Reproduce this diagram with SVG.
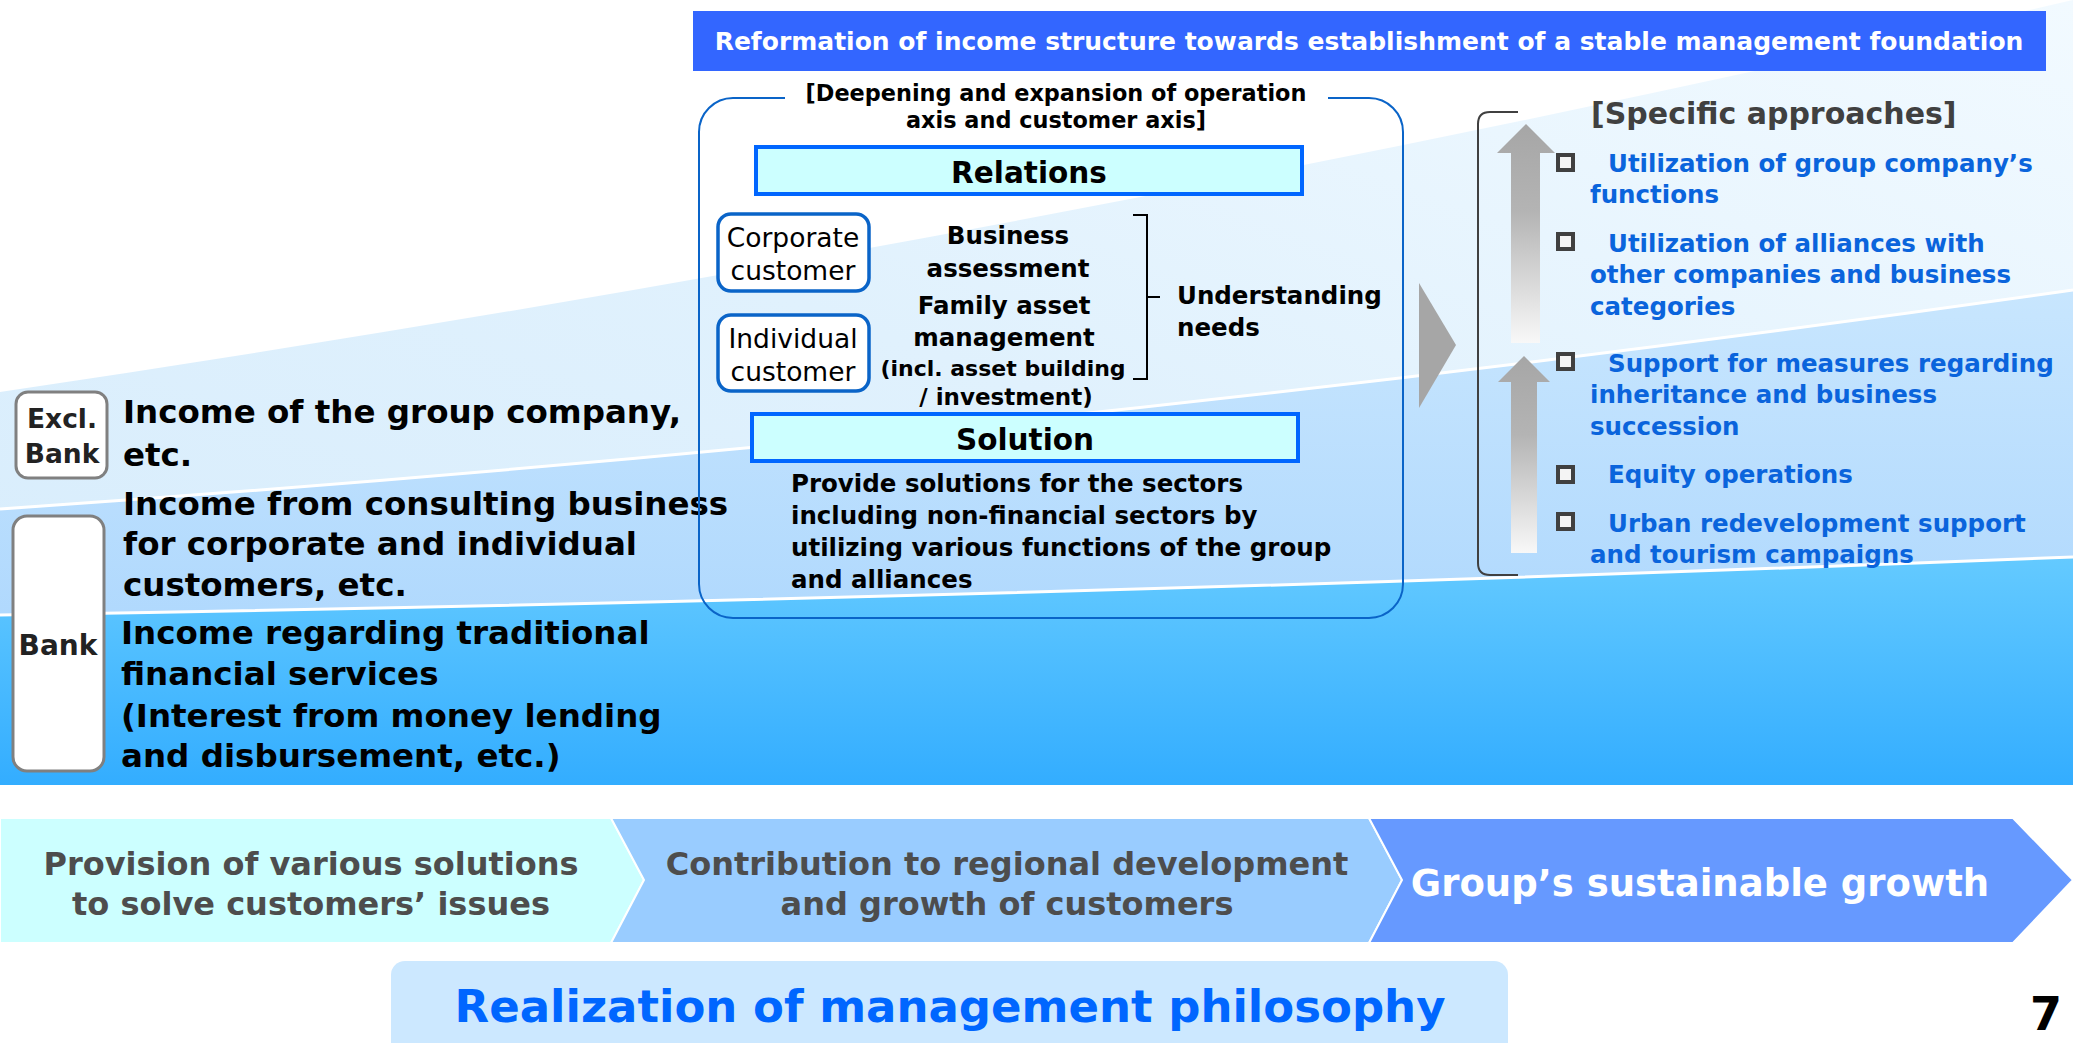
<svg xmlns="http://www.w3.org/2000/svg" width="2073" height="1043" viewBox="0 0 2073 1043">
<defs>
<style>
text{font-family:"DejaVu Sans",Verdana,sans-serif;}
.b{font-weight:bold;}
.c{text-anchor:middle;}
.blue{fill:#0A64DC;font-weight:bold;font-size:24.5px;}
.mid{font-weight:bold;font-size:24.5px;fill:#000;text-anchor:middle;}
.sub{font-weight:bold;font-size:22px;fill:#000;text-anchor:middle;}
.sub2{font-weight:bold;font-size:23px;fill:#000;text-anchor:middle;}
.left{font-weight:bold;font-size:32.5px;fill:#000;}
.sep{fill:none;stroke:#fff;stroke-width:3;}
.lbl{fill:#fff;stroke:#808080;stroke-width:3;}
.cust{fill:#fff;stroke:#0A64C8;stroke-width:3.5;}
.hdr{fill:#CCFFFF;stroke:#0066FF;stroke-width:4;}
.bul{fill:#F4F4F4;stroke:#404040;stroke-width:4;}
.chev{stroke:#fff;stroke-width:2;}
</style>
<linearGradient id="g1" x1="1" y1="0" x2="0" y2="1">
<stop offset="0" stop-color="#F2FAFF"/>
<stop offset="0.5" stop-color="#E0F1FD"/>
<stop offset="1" stop-color="#D6ECFC"/>
</linearGradient>
<linearGradient id="g2" x1="0" y1="0" x2="0" y2="1">
<stop offset="0" stop-color="#C8E6FE"/>
<stop offset="1" stop-color="#A4D2FD"/>
</linearGradient>
<linearGradient id="g3" x1="0" y1="0" x2="0" y2="1">
<stop offset="0" stop-color="#64CAFF"/>
<stop offset="1" stop-color="#33ADFF"/>
</linearGradient>
<linearGradient id="ga" x1="0" y1="0" x2="0" y2="1">
<stop offset="0" stop-color="#A6A6A6"/>
<stop offset="0.4" stop-color="#B4B4B4"/>
<stop offset="1" stop-color="#F8F8F8"/>
</linearGradient>
</defs>

<g id="background">
<rect x="0" y="0" width="2073" height="1043" fill="#fff"/>
<path d="M0,392 Q1036,238 2073,0 L2073,785 L0,785 Z" fill="url(#g1)"/>
<path d="M0,509 Q1036,438 2073,290 L2073,785 L0,785 Z" fill="url(#g2)"/>
<path class="sep" d="M0,509 Q1036,438 2073,290"/>
<path d="M0,615 Q1036,598 2073,557 L2073,785 L0,785 Z" fill="url(#g3)"/>
<path class="sep" d="M0,615 Q1036,598 2073,557"/>
</g>

<g id="banner">
<rect x="693" y="11" width="1353" height="60" fill="#3366FF"/>
<text x="1369" y="50" class="b c" font-size="25" fill="#fff">Reformation of income structure towards establishment of a stable management foundation</text>
</g>

<g id="label-excl-bank">
<rect class="lbl" x="16" y="392" width="91" height="86" rx="12"/>
<text x="62" y="428" class="b c" font-size="26.5" fill="#222">Excl.</text>
<text x="62" y="463" class="b c" font-size="26.5" fill="#222">Bank</text>
</g>
<g id="label-bank">
<rect class="lbl" x="13" y="516" width="91" height="255" rx="14"/>
<text x="58" y="655" class="b c" font-size="28" fill="#222">Bank</text>
</g>

<g id="income-texts">
<text x="123" y="423" class="left">Income of the group company,</text>
<text x="123" y="466" class="left">etc.</text>
<text x="123" y="515" class="left">Income from consulting business</text>
<text x="123" y="555" class="left">for corporate and individual</text>
<text x="123" y="596" class="left">customers, etc.</text>
<text x="121" y="644" class="left">Income regarding traditional</text>
<text x="121" y="685" class="left">financial services</text>
<text x="121" y="727" class="left">(Interest from money lending</text>
<text x="121" y="767" class="left">and disbursement, etc.)</text>
</g>

<g id="axis-frame">
<path d="M785,98 L733,98 A34,34 0 0 0 699,132 L699,584 A34,34 0 0 0 733,618 L1369,618 A34,34 0 0 0 1403,584 L1403,132 A34,34 0 0 0 1369,98 L1328,98" fill="none" stroke="#0A64C8" stroke-width="2"/>
<text x="1056" y="101" class="b c" font-size="22.4" fill="#000">[Deepening and expansion of operation</text>
<text x="1056" y="128" class="b c" font-size="22.4" fill="#000">axis and customer axis]</text>
</g>

<g id="relations">
<rect class="hdr" x="756" y="147" width="546" height="47"/>
<text x="1029" y="183" class="b c" font-size="29.5" fill="#000">Relations</text>
</g>

<g id="corporate-customer">
<rect class="cust" x="718" y="214" width="151" height="77" rx="13"/>
<text x="793" y="247" class="c" font-size="26.5" fill="#000">Corporate</text>
<text x="793" y="280" class="c" font-size="26.5" fill="#000">customer</text>
</g>
<g id="individual-customer">
<rect class="cust" x="718" y="315" width="151" height="76" rx="13"/>
<text x="793" y="348" class="c" font-size="26.5" fill="#000">Individual</text>
<text x="793" y="381" class="c" font-size="26.5" fill="#000">customer</text>
</g>

<g id="needs-items">
<text x="1008" y="244" class="mid">Business</text>
<text x="1008" y="277" class="mid">assessment</text>
<text x="1004" y="314" class="mid">Family asset</text>
<text x="1004" y="346" class="mid">management</text>
<text x="1003" y="376" class="sub">(incl. asset building</text>
<text x="1006" y="405" class="sub2">/ investment)</text>
</g>

<g id="understanding-needs">
<path d="M1133,215 L1147,215 L1147,379 L1133,379 M1147,297 L1160,297" fill="none" stroke="#000" stroke-width="2"/>
<text x="1177" y="304" class="b" font-size="24.5" fill="#000">Understanding</text>
<text x="1177" y="336" class="b" font-size="24.5" fill="#000">needs</text>
</g>

<g id="solution">
<rect class="hdr" x="752" y="414" width="546" height="47"/>
<text x="1025" y="450" class="b c" font-size="29.5" fill="#000">Solution</text>
</g>
<g id="solution-text">
<text x="791" y="492" class="b" font-size="24.5" fill="#000">Provide solutions for the sectors</text>
<text x="791" y="524" class="b" font-size="24.5" fill="#000">including non-financial sectors by</text>
<text x="791" y="556" class="b" font-size="24.5" fill="#000">utilizing various functions of the group</text>
<text x="791" y="588" class="b" font-size="24.5" fill="#000">and alliances</text>
</g>

<g id="connectors">
<polygon points="1419,283 1456,345 1419,408" fill="#A6A6A6"/>
<path d="M1518,112 L1490,112 Q1478,112 1478,124 L1478,563 Q1478,575 1490,575 L1518,575" fill="none" stroke="#404040" stroke-width="2"/>
<polygon points="1526,124 1555,153 1540,153 1540,343 1511,343 1511,153 1497,153" fill="url(#ga)"/>
<polygon points="1524,356 1550,382 1537,382 1537,553 1511,553 1511,382 1498,382" fill="url(#ga)"/>
</g>

<g id="specific-approaches">
<text x="1591" y="124" class="b" font-size="30" fill="#404040">[Specific approaches]</text>
<rect class="bul" x="1558" y="155" width="15" height="15"/>
<rect class="bul" x="1558" y="234" width="15" height="15"/>
<rect class="bul" x="1558" y="354" width="15" height="15"/>
<rect class="bul" x="1558" y="467" width="15" height="15"/>
<rect class="bul" x="1558" y="514" width="15" height="15"/>
<text x="1608" y="172" class="blue">Utilization of group company’s</text>
<text x="1590" y="203" class="blue">functions</text>
<text x="1608" y="252" class="blue">Utilization of alliances with</text>
<text x="1590" y="283" class="blue">other companies and business</text>
<text x="1590" y="315" class="blue">categories</text>
<text x="1608" y="372" class="blue">Support for measures regarding</text>
<text x="1590" y="403" class="blue">inheritance and business</text>
<text x="1590" y="435" class="blue">succession</text>
<text x="1608" y="483" class="blue">Equity operations</text>
<text x="1608" y="532" class="blue">Urban redevelopment support</text>
<text x="1590" y="563" class="blue">and tourism campaigns</text>
</g>

<g id="step-1">
<polygon class="chev" points="0,818 611,818 644,880 611,943 0,943" fill="#CCFFFF"/>
<text x="311" y="875" class="b c" font-size="32" fill="#4D4D4D">Provision of various solutions</text>
<text x="311" y="915" class="b c" font-size="32" fill="#4D4D4D">to solve customers’ issues</text>
</g>
<g id="step-2">
<polygon class="chev" points="611,818 1369,818 1402,880 1369,943 611,943 644,880" fill="#99CCFF"/>
<text x="1007" y="875" class="b c" font-size="32" fill="#4D4D4D">Contribution to regional development</text>
<text x="1007" y="915" class="b c" font-size="32" fill="#4D4D4D">and growth of customers</text>
</g>
<g id="step-3">
<polygon class="chev" points="1369,818 2013,818 2073,880 2013,943 1369,943 1402,880" fill="#6699FF"/>
<text x="1700" y="896" class="b c" font-size="37" fill="#fff">Group’s sustainable growth</text>
</g>

<g id="philosophy">
<rect x="391" y="961" width="1117" height="100" rx="14" fill="#CCE8FF"/>
<text x="950" y="1022" class="b c" font-size="45" fill="#0066FF">Realization of management philosophy</text>
</g>

<g id="page-number">
<text x="2046" y="1030" class="b c" font-size="46" fill="#000">7</text>
</g>
</svg>
